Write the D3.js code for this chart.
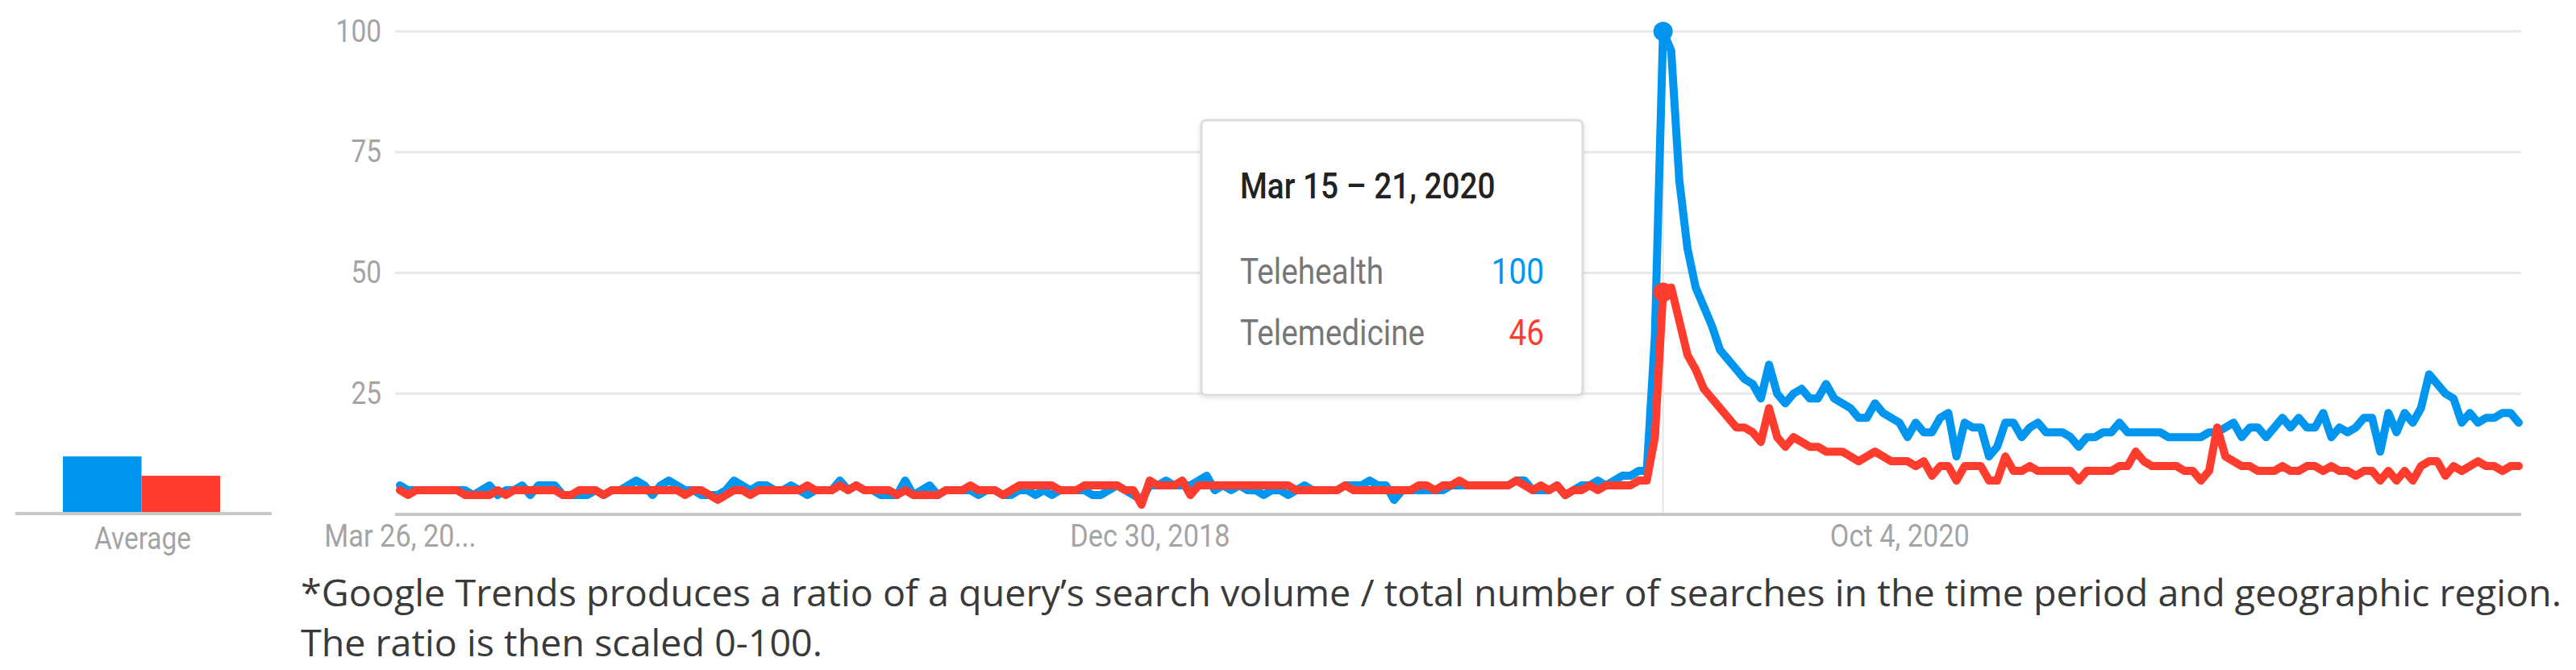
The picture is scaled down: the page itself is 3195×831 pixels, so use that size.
<!DOCTYPE html>
<html>
<head>
<meta charset="utf-8">
<script src="https://cdn.jsdelivr.net/npm/d3@7"></script>
<style>
  body { margin: 0; background: #fff; }
  svg { display: block; }
  .chart text { font-family: Roboto, sans-serif; }
  .note { font-family: "Open Sans", sans-serif; fill: #3a3a3a; }
</style>
</head>
<body>
<svg id="chart" width="3195" height="831"></svg>
<script>
// weekly Google Trends values, first week starts Mar 26 2017
const startDate = "2017-03-26";
const seriesNames = ["Telehealth", "Telemedicine"];
const seriesColors = ["#0096f0", "#ff3c2d"];

const telehealth = [
  6,5,5,5,5,5,5,5,5,4,
  5,6,4,5,5,6,4,6,6,6,
  4,4,4,4,5,4,5,5,6,7,
  6,4,6,7,6,5,5,4,4,4,
  5,7,6,5,6,6,5,5,6,5,
  4,5,5,5,7,5,6,5,5,4,
  4,4,7,4,5,6,4,5,5,5,
  5,4,5,5,4,4,5,5,4,5,
  4,5,5,5,5,4,4,5,6,5,
  4,3,6,6,7,6,6,6,7,8,
  5,6,5,6,5,5,4,5,5,4,
  5,6,5,5,5,5,6,6,6,7,
  6,6,3,5,5,5,5,5,5,6,
  6,6,6,6,6,6,6,7,7,5,
  5,5,6,4,5,6,6,7,6,7,
  8,8,9,9,37,100,96,69,55,47,
  43,39,34,32,30,28,27,24,31,25,
  23,25,26,24,24,27,24,23,22,20,
  20,23,21,20,19,16,19,17,17,20,
  21,12,19,18,18,12,14,19,19,16,
  18,19,17,17,17,16,14,16,16,17,
  17,19,17,17,17,17,17,16,16,16,
  16,16,17,17,18,19,16,18,18,16,
  18,20,18,20,18,18,21,16,18,17,
  18,20,20,13,21,17,21,19,22,29,
  27,25,24,19,21,19,20,20,21,21,
  19
];

const telemedicine = [
  5,4,5,5,5,5,5,5,4,4,
  4,4,5,4,5,5,5,5,5,5,
  4,4,5,5,5,4,5,5,5,5,
  5,5,5,5,5,4,5,5,4,3,
  4,5,5,4,5,5,5,5,5,5,
  6,5,5,5,6,5,6,5,5,5,
  5,4,5,4,4,4,4,5,5,5,
  6,5,5,5,4,5,6,6,6,6,
  6,5,5,5,6,6,6,6,6,5,
  5,2,7,6,6,6,7,4,6,6,
  6,6,6,6,6,6,6,6,6,6,
  5,5,5,5,5,5,6,5,5,5,
  5,5,5,5,5,6,6,5,6,6,
  7,6,6,6,6,6,6,7,6,5,
  6,5,6,4,5,5,6,5,6,6,
  6,6,7,7,16,46,47,40,33,30,
  26,24,22,20,18,18,17,15,22,16,
  14,16,15,14,14,13,13,13,12,11,
  12,13,12,11,11,11,10,11,8,10,
  10,7,10,10,10,7,7,12,9,9,
  10,9,9,9,9,9,7,9,9,9,
  9,10,10,13,11,10,10,10,10,9,
  9,7,9,18,12,11,10,10,9,9,
  9,10,9,9,10,10,9,10,9,9,
  8,9,9,7,9,7,9,7,10,11,
  11,8,10,9,10,11,10,10,9,10,
  10
];

const averages = [12, 8];
const yTicks = [25, 50, 75, 100];
const xTickDates = ["2017-03-26", "2018-12-30", "2020-10-04"];
const xTickLabels = ["Mar 26, 20...", "Dec 30, 2018", "Oct 4, 2020"];
const hoverIndex = 155; // week of Mar 15 2020
const footnote = [
  "*Google Trends produces a ratio of a query\u2019s search volume / total number of searches in the time period and geographic region.",
  "The ratio is then scaled 0-100."
];

const parse = d3.timeParse("%Y-%m-%d");
const t0 = parse(startDate);
const dates = telehealth.map((d, i) => d3.timeWeek.offset(t0, i));

const svg = d3.select("#chart");
const chart = svg.append("g").attr("class", "chart");

const x = d3.scaleTime()
    .domain([dates[0], dates[dates.length - 1]])
    .range([496, 3124]);

const y = d3.scaleLinear()
    .domain([0, 100])
    .range([638, 39]);

const gridLeft = 490, gridRight = 3127;

// horizontal grid
chart.selectAll("line.grid")
    .data(yTicks)
    .enter().append("line")
    .attr("class", "grid")
    .attr("x1", gridLeft)
    .attr("x2", gridRight)
    .attr("y1", d => y(d))
    .attr("y2", d => y(d))
    .attr("stroke", "#e8e8e8")
    .attr("stroke-width", 3);

// y axis labels
const yAxis = chart.append("g")
    .attr("transform", `translate(${gridLeft},0)`)
    .call(d3.axisLeft(y).tickValues(yTicks).tickSize(0).tickPadding(17));
yAxis.select(".domain").remove();
yAxis.selectAll("text")
    .attr("fill", "#a4a4a4")
    .style("font-size", "38px");

// x axis labels
const xAxis = chart.append("g")
    .attr("transform", `translate(0,${y(0)})`)
    .call(d3.axisBottom(x)
        .tickValues(xTickDates.map(parse))
        .tickFormat((d, i) => xTickLabels[i])
        .tickSize(0)
        .tickPadding(12));
xAxis.select(".domain").remove();
xAxis.selectAll("text")
    .attr("fill", "#a4a4a4")
    .style("font-size", "39px");

// hover line
chart.append("line")
    .attr("x1", x(dates[hoverIndex]))
    .attr("x2", x(dates[hoverIndex]))
    .attr("y1", y(100))
    .attr("y2", y(0))
    .attr("stroke", "#e6e6e6")
    .attr("stroke-width", 2);

// baseline
chart.append("line")
    .attr("x1", gridLeft)
    .attr("x2", gridRight)
    .attr("y1", y(0))
    .attr("y2", y(0))
    .attr("stroke", "#c8c8c8")
    .attr("stroke-width", 4);

// series lines
const line = d3.line()
    .x((d, i) => x(dates[i]))
    .y(d => y(d));

[telehealth, telemedicine].forEach((s, k) => {
    chart.append("path")
        .datum(s)
        .attr("d", line)
        .attr("fill", "none")
        .attr("stroke", seriesColors[k])
        .attr("stroke-width", 10)
        .attr("stroke-linejoin", "round")
        .attr("stroke-linecap", "round");
});

// dots on hovered week
[telehealth, telemedicine].forEach((s, k) => {
    chart.append("circle")
        .attr("cx", x(dates[hoverIndex]))
        .attr("cy", y(s[hoverIndex]))
        .attr("r", 12)
        .attr("fill", seriesColors[k]);
});

// average bars
const band = d3.scaleBand()
    .domain(seriesNames)
    .range([78, 273]);

chart.selectAll("rect.avg")
    .data(averages)
    .enter().append("rect")
    .attr("class", "avg")
    .attr("x", (d, i) => band(seriesNames[i]))
    .attr("width", band.bandwidth())
    .attr("y", d => y(d))
    .attr("height", d => y(0) - y(d))
    .attr("fill", (d, i) => seriesColors[i]);

chart.append("line")
    .attr("x1", 19).attr("x2", 337)
    .attr("y1", y(0) - 1).attr("y2", y(0) - 1)
    .attr("stroke", "#c8c8c8")
    .attr("stroke-width", 4);

chart.append("text")
    .attr("x", 177)
    .attr("y", 681)
    .attr("text-anchor", "middle")
    .attr("fill", "#a4a4a4")
    .style("font-size", "38px")
    .text("Average");

// tooltip
const defs = svg.append("defs");
const shadow = defs.append("filter").attr("id", "shadow")
    .attr("x", "-10%").attr("y", "-10%").attr("width", "120%").attr("height", "120%");
shadow.append("feDropShadow")
    .attr("dx", 0).attr("dy", 2).attr("stdDeviation", 3)
    .attr("flood-color", "#000").attr("flood-opacity", 0.12);

const tip = chart.append("g");
tip.append("rect")
    .attr("x", 1490).attr("y", 149)
    .attr("width", 473).attr("height", 341)
    .attr("rx", 6)
    .attr("fill", "#fff")
    .attr("stroke", "#dcdcdc")
    .attr("stroke-width", 3)
    .attr("filter", "url(#shadow)");

const wkStart = dates[hoverIndex];
const wkEnd = d3.timeDay.offset(wkStart, 6);
tip.append("text")
    .attr("x", 1538).attr("y", 246)
    .attr("fill", "#222")
    .style("font-size", "44px")
    .style("font-weight", 500)
    .text(`${d3.timeFormat("%b %-d")(wkStart)} \u2013 ${d3.timeFormat("%-d, %Y")(wkEnd)}`);

const rowY = [352, 428];
[telehealth, telemedicine].forEach((s, k) => {
    tip.append("text")
        .attr("x", 1538).attr("y", rowY[k])
        .attr("fill", "#777")
        .style("font-size", "44px")
        .text(seriesNames[k]);
    tip.append("text")
        .attr("x", 1915).attr("y", rowY[k])
        .attr("text-anchor", "end")
        .attr("fill", seriesColors[k])
        .style("font-size", "44px")
        .text(s[hoverIndex]);
});

// the picture is squeezed horizontally, so narrow the chart text a bit
chart.selectAll("text").each(function() {
    const w = this.getComputedTextLength();
    d3.select(this).attr("textLength", w * 0.88).attr("lengthAdjust", "spacingAndGlyphs");
});

// footnote
const noteWidths = [2804, 647];
svg.selectAll("text.note")
    .data(footnote)
    .enter().append("text")
    .attr("class", "note")
    .attr("x", 373)
    .attr("y", (d, i) => 752 + i * 62)
    .attr("textLength", (d, i) => noteWidths[i])
    .attr("lengthAdjust", "spacingAndGlyphs")
    .style("font-size", "46px")
    .text(d => d);
</script>
</body>
</html>
